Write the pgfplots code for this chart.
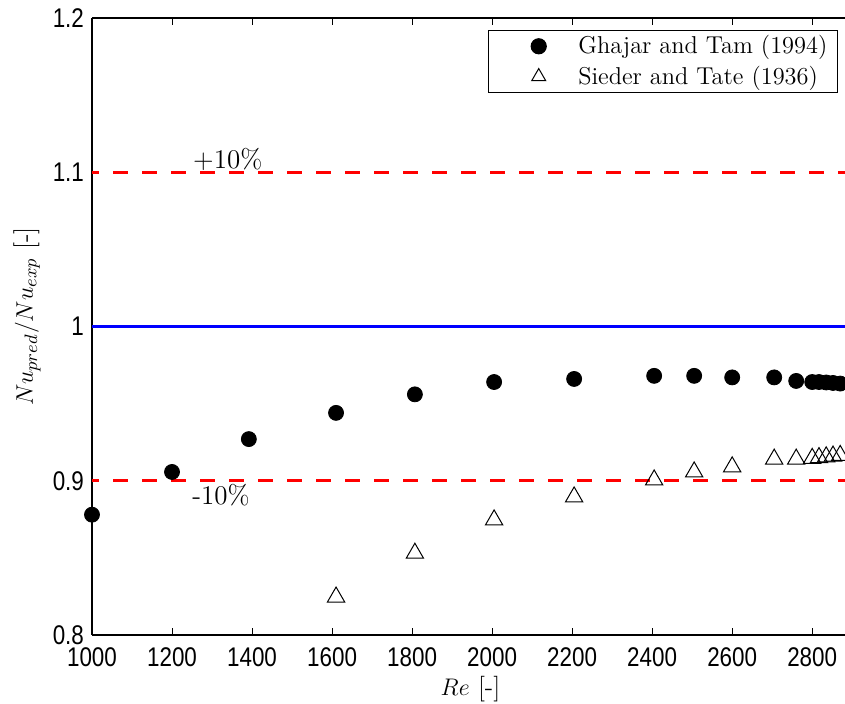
\documentclass[border=0pt]{standalone}
\usepackage{pgfplots}
\pgfplotsset{compat=1.18}
\usepackage{fontspec}
\newfontfamily\tickfont[FakeStretch=0.83]{Liberation Sans}
\pgfplotsset{
  legimgA/.style={legend image code/.code={\path (0pt,0pt) (39.5pt,0pt); \draw[##1] plot coordinates {(22pt,0pt)};}},
  legimgB/.style={legend image code/.code={\path (0pt,0pt) (39.5pt,0pt); \draw[##1, mark size=4pt] plot coordinates {(22pt,0pt)};}},
}
\begin{document}
\begin{tikzpicture}
\begin{axis}[
  name=ax,
  scale only axis,
  width=376.5pt, height=308.5pt,
  xmin=1000, xmax=2882, ymin=0.8, ymax=1.2,
  axis x line=box, axis y line=left,
  axis line style={-, line width=0.8pt},
  xtick={1000,1200,...,2800},
  ytick={0.8,0.9,1,1.1,1.2},
  tick align=inside,
  major tick length=3.5pt,
  tick style={black, line width=0.5pt},
  ticklabel style={font=\tickfont\fontsize{13.5}{13.5}\selectfont},
  xticklabel style={yshift=-3pt},
  yticklabel style={xshift=-0.5pt},
  /pgf/number format/assume math mode=true,
  /pgf/number format/1000 sep={},
  clip=true,
  legend style={at={(0.9907,0.9805)}, anchor=north east, draw=black, line width=0.6pt,
    font=\fontsize{12.2}{13.5}\selectfont, inner xsep=3pt, inner ysep=0.5pt, row sep=0.5pt},
  legend cell align=left,
]
\addplot[only marks, mark=*, mark size=3.75pt, black, legimgA] table {
x y
1000 0.878
1200 0.9057
1392 0.927
1610 0.944
1807 0.956
2005 0.964
2205 0.966
2405 0.968
2505 0.968
2600 0.967
2705 0.967
2760 0.9647
2800 0.964
2817 0.964
2835 0.9637
2852 0.9634
2870 0.963
2887 0.9626
};
\addlegendentry{Ghajar and Tam (1994)}
\addplot[only marks, mark=triangle, mark size=5pt, black, mark options={line width=0.5pt}, legimgB] table {
x y
1610 0.8246
1807 0.853
2005 0.8746
2205 0.8895
2405 0.9005
2505 0.9057
2600 0.909
2705 0.914
2760 0.914
2800 0.9145
2817 0.915
2835 0.9155
2852 0.916
2870 0.9164
2887 0.9168
};
\addlegendentry{Sieder and Tate (1936)}
\addplot[red, line width=1.6pt, dash pattern=on 7.3pt off 7.2pt, dash phase=4pt, forget plot] coordinates {(1000,1.1) (2882,1.1)};
\addplot[red, line width=1.6pt, dash pattern=on 7.3pt off 7.2pt, dash phase=4pt, forget plot] coordinates {(1000,0.9) (2882,0.9)};
\addplot[blue, line width=1.5pt, forget plot] coordinates {(1000,1) (2882,1)};
\node[font=\fontsize{13.5}{13.5}\selectfont, anchor=base west, inner sep=0pt] at (axis cs:1252,1.1026) {+10\%};
\node[font=\fontsize{13.5}{13.5}\selectfont, anchor=base west, inner sep=0pt] at (axis cs:1250,0.8843) {-10\%};
\end{axis}
\node[rotate=90, font=\fontsize{13}{13}\selectfont, anchor=center] at ([xshift=-32.5pt,yshift=5pt]ax.west) {$Nu_{pred}/Nu_{exp}$ [-]};
\node[font=\fontsize{12.8}{12.8}\selectfont, anchor=base] at ([xshift=1pt,yshift=-30.5pt]ax.south) {$Re$ [-]};
\pgfresetboundingbox
\useasboundingbox ([xshift=-46pt,yshift=-34.5pt]ax.south west) rectangle ([yshift=9pt]ax.north east);
\end{tikzpicture}
\end{document}
